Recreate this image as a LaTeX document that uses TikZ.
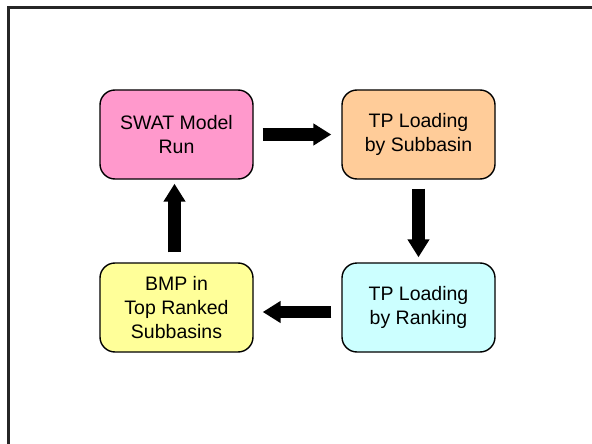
\documentclass[tikz,border=0pt]{standalone}
\usepackage{fontspec}
\setmainfont{Liberation Sans}
\usetikzlibrary{arrows.meta}
\definecolor{cpink}{HTML}{FF99CC}
\definecolor{corange}{HTML}{FFCC99}
\definecolor{ccyan}{HTML}{CCFFFF}
\definecolor{cyellow}{HTML}{FFFF99}
\tikzset{
  stepbox/.style={draw=black, line width=1.4pt, rounded corners=15pt,
    minimum width=153pt, minimum height=89pt, align=center, inner sep=0pt,
    font=\fontsize{19.5}{24}\selectfont},
  bigarrow/.style={line width=12.5pt, -{Triangle[width=21pt,length=18pt]}}
}
\begin{document}
\begin{tikzpicture}[x=1pt,y=-1pt]
\useasboundingbox (0,0) rectangle (592,444);
\draw[line width=3pt, black!85] (8,446) -- (8,8) -- (594,8);
\node[stepbox, fill=cpink]   (swat) at (176.5,134.5) {SWAT Model\\Run};
\node[stepbox, fill=corange] (sub)  at (418.5,134.5) {TP Loading\\by Subbasin};
\node[stepbox, fill=ccyan]   (rank) at (418.5,307.5) {TP Loading\\by Ranking};
\node[stepbox, fill=cyellow] (bmp)  at (176.5,307.5) {BMP in\\Top Ranked\\Subbasins};
\draw[bigarrow, shorten <=9pt, shorten >=10pt] (swat.east) -- (sub.west);
\draw[bigarrow, shorten <=9pt, shorten >=5pt] (sub.south) -- (rank.north);
\draw[bigarrow, shorten <=10pt, shorten >=9pt] ([yshift=-4.5pt]rank.west) -- ([yshift=-4.5pt]bmp.east);
\draw[bigarrow, shorten <=10pt, shorten >=4pt] ([xshift=-2pt]bmp.north) -- ([xshift=-2pt]swat.south);
\end{tikzpicture}
\end{document}
